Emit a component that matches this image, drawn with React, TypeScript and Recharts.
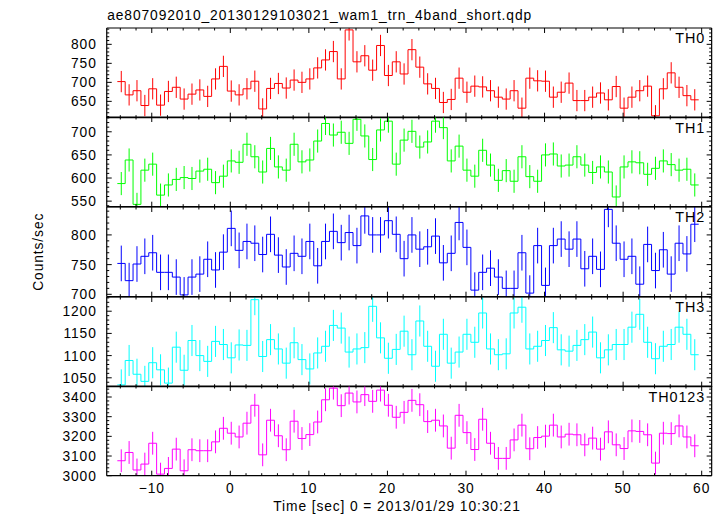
import React from 'react';
import { ComposedChart, Line, Scatter, ErrorBar, XAxis, YAxis } from 'recharts';

// 1-s bins, time of first bin centre relative to 2013/01/29 10:30:21
const T_START = -13.88;
const BIN = 1.0;

const TH0 = [
  702, 667, 678, 639, 683, 640, 676, 687, 656, 669, 680, 663, 709, 742, 677, 667, 683, 703, 630, 684,
  697, 685, 706, 700, 709, 738, 759, 781, 709, 838, 754, 770, 732, 797, 718, 754, 722, 786, 740, 696,
  684, 647, 655, 711, 674, 690, 688, 678, 661, 656, 678, 632, 711, 704, 703, 661, 674, 698, 652, 652,
  661, 672, 654, 689, 632, 661, 678, 690, 612, 683, 725, 687, 665, 654,
];
const TH1 = [
  588, 639, 543, 617, 630, 563, 585, 597, 601, 599, 615, 619, 590, 604, 637, 634, 673, 646, 613, 664,
  624, 617, 673, 635, 639, 680, 718, 693, 699, 675, 727, 691, 640, 704, 723, 630, 682, 701, 667, 678,
  723, 709, 637, 669, 617, 604, 660, 628, 595, 616, 593, 646, 603, 593, 650, 652, 626, 628, 646, 628,
  612, 624, 613, 559, 624, 635, 633, 608, 621, 637, 629, 617, 619, 585,
];
const TH2 = [
  752, 723, 751, 764, 770, 737, 737, 729, 699, 729, 734, 759, 741, 771, 811, 774, 789, 786, 767, 801,
  766, 746, 769, 764, 789, 748, 789, 806, 787, 804, 782, 832, 800, 800, 824, 801, 760, 800, 776, 780,
  798, 753, 769, 821, 779, 707, 737, 744, 729, 710, 710, 770, 702, 782, 715, 782, 793, 776, 793, 743,
  764, 742, 843, 786, 759, 764, 717, 784, 740, 775, 734, 786, 768, 818,
];
const TH3 = [
  1034, 1089, 1058, 1042, 1084, 1068, 1038, 1119, 1067, 1134, 1100, 1087, 1132, 1125, 1095, 1124, 1123, 1226, 1098, 1136,
  1115, 1083, 1129, 1091, 1070, 1106, 1121, 1168, 1162, 1108, 1115, 1118, 1211, 1140, 1094, 1114, 1155, 1102, 1178, 1121,
  1076, 1148, 1083, 1108, 1148, 1130, 1196, 1115, 1102, 1104, 1196, 1209, 1115, 1121, 1134, 1163, 1113, 1110, 1123, 1136,
  1153, 1095, 1113, 1125, 1125, 1164, 1193, 1130, 1093, 1121, 1125, 1164, 1148, 1102,
];
const TH0123 = [
  3076, 3118, 3029, 3059, 3165, 3008, 3037, 3135, 3025, 3132, 3127, 3127, 3172, 3241, 3216, 3197, 3267, 3358, 3106, 3282,
  3203, 3132, 3277, 3189, 3209, 3273, 3386, 3445, 3356, 3420, 3375, 3412, 3378, 3435, 3358, 3297, 3322, 3383, 3361, 3275,
  3282, 3253, 3140, 3307, 3219, 3133, 3287, 3165, 3088, 3088, 3182, 3257, 3137, 3194, 3201, 3257, 3197, 3211, 3208, 3157,
  3191, 3135, 3223, 3157, 3138, 3228, 3225, 3208, 3064, 3216, 3214, 3253, 3197, 3152,
];

const SERIES = [TH0, TH1, TH2, TH3, TH0123];
const BANDS = ['TH0', 'TH1', 'TH2', 'TH3', 'TH0123'];
const COLORS = ['#ff0000', '#00ff00', '#0000ff', '#00ffff', '#ff00ff'];
const ERRORS = [28, 25, 30, 35, 58];
const Y_DOMAINS = [[607, 843], [538, 732], [696, 847], [1030, 1232], [3000, 3456]];
const Y_MAJOR = [
  [650, 700, 750, 800],
  [550, 600, 650, 700],
  [700, 750, 800],
  [1050, 1100, 1150, 1200],
  [3000, 3100, 3200, 3300, 3400],
];
const Y_MINOR_STEP = [10, 10, 10, 10, 20];
const X_DOMAIN = [-15.73, 61.27];

// layout
const W = 725;
const H = 516;
const LEFT = 106.7;
const RIGHT = 711.7;
const TOP0 = 27.5;
const PANEL_H = 89.7;
const FONT = "'Liberation Sans', Arial, Helvetica, sans-serif";
const FS = 13.8;
const LS = 0.9;

const AXIS_LINE = { stroke: '#000', strokeWidth: 1.2 };

const xTicks: number[] = [];
for (let t = -14; t <= 60; t += 2) xTicks.push(t);

function yTicksFor(k: number) {
  const [lo, hi] = Y_DOMAINS[k];
  const step = Y_MINOR_STEP[k];
  const out: number[] = [];
  for (let v = Math.ceil(lo / step) * step; v <= hi; v += step) out.push(v);
  return out;
}

function XTick(props: any) {
  const { x, y, payload, side, labels } = props;
  const v = payload.value;
  const major = v % 10 === 0;
  const len = major ? 5 : 2.5;
  const y2 = side === 'bottom' ? y - len : y + len;
  return (
    <g>
      <line x1={x} y1={y} x2={x} y2={y2} stroke="#000" strokeWidth={1} />
      {labels && major && (
        <text x={x} y={y + 17} textAnchor="middle" fontFamily={FONT} fontSize={FS} letterSpacing={LS} fill="#000">
          {v < 0 ? `\u2212${-v}` : v}
        </text>
      )}
    </g>
  );
}

function YTick(props: any) {
  const { x, y, payload, side, majors } = props;
  const v = payload.value;
  const major = majors.includes(v);
  const len = major ? 5 : 2.5;
  const x2 = side === 'left' ? x + len : x - len;
  return (
    <g>
      <line x1={x} y1={y} x2={x2} y2={y} stroke="#000" strokeWidth={1} />
      {side === 'left' && major && (
        <text x={x - 10} y={y} dy="0.36em" textAnchor="end" fontFamily={FONT} fontSize={FS} letterSpacing={LS} fill="#000">
          {v}
        </text>
      )}
    </g>
  );
}

function Panel({ k }: { k: number }) {
  const values = SERIES[k];
  const color = COLORS[k];
  const [lo, hi] = Y_DOMAINS[k];
  const e = ERRORS[k];
  const last = k === SERIES.length - 1;
  // histogram steps: left bin edges plus closing edge of the last bin
  const steps = values.map((v, i) => ({ x: T_START + i * BIN - BIN / 2, y: v }));
  steps.push({ x: T_START + (values.length - 1) * BIN + BIN / 2, y: values[values.length - 1] });
  // error bars cut at the panel frame, like the plot window does
  const points = values.map((v, i) => ({
    x: T_START + i * BIN,
    y: v,
    err: [Math.min(e, v - lo), Math.min(e, hi - v)],
  }));
  const yTicks = yTicksFor(k);
  const extra = last ? H - (TOP0 + SERIES.length * PANEL_H) : 0;

  // axes are 1px thick boxes just outside the plot area (0-size axes are not drawn)
  return (
    <div style={{ position: 'absolute', left: 0, top: TOP0 + k * PANEL_H - 1 }}>
      <ComposedChart
        width={W}
        height={PANEL_H + 2 + extra}
        margin={{ top: 0, right: W - RIGHT - 1, bottom: extra, left: LEFT - 1 }}
      >
        <XAxis
          xAxisId="b"
          type="number"
          dataKey="x"
          orientation="bottom"
          domain={X_DOMAIN}
          allowDataOverflow
          ticks={xTicks}
          interval={0}
          height={1}
          tickSize={0}
          tickMargin={0}
          tickLine={false}
          axisLine={AXIS_LINE}
          tick={<XTick side="bottom" labels={last} />}
        />
        <XAxis
          xAxisId="t"
          type="number"
          dataKey="x"
          orientation="top"
          domain={X_DOMAIN}
          allowDataOverflow
          ticks={xTicks}
          interval={0}
          height={1}
          tickSize={0}
          tickMargin={0}
          tickLine={false}
          axisLine={AXIS_LINE}
          tick={<XTick side="top" labels={false} />}
        />
        <YAxis
          yAxisId="l"
          type="number"
          dataKey="y"
          orientation="left"
          domain={Y_DOMAINS[k]}
          allowDataOverflow
          ticks={yTicks}
          interval={0}
          width={1}
          tickSize={0}
          tickMargin={0}
          tickLine={false}
          axisLine={AXIS_LINE}
          tick={<YTick side="left" majors={Y_MAJOR[k]} />}
        />
        <YAxis
          yAxisId="r"
          type="number"
          dataKey="y"
          orientation="right"
          domain={Y_DOMAINS[k]}
          allowDataOverflow
          ticks={yTicks}
          interval={0}
          width={1}
          tickSize={0}
          tickMargin={0}
          tickLine={false}
          axisLine={AXIS_LINE}
          tick={<YTick side="right" majors={Y_MAJOR[k]} />}
        />
        <Line
          xAxisId="b"
          yAxisId="l"
          data={steps}
          dataKey="y"
          type="stepAfter"
          stroke={color}
          strokeWidth={1}
          dot={false}
          activeDot={false}
          isAnimationActive={false}
        />
        <Scatter
          xAxisId="b"
          yAxisId="l"
          data={points}
          dataKey="y"
          shape={() => <g />}
          isAnimationActive={false}
        >
          <ErrorBar dataKey="err" direction="y" width={0} stroke={color} strokeWidth={1} isAnimationActive={false} />
        </Scatter>
      </ComposedChart>
    </div>
  );
}

export default function App() {
  const midY = TOP0 + (SERIES.length * PANEL_H) / 2;
  return (
    <div style={{ position: 'absolute', left: 0, top: 0, width: W, height: H, background: '#fff', overflow: 'hidden' }}>
      {/* tick labels at a panel's lower edge reach into the next panel's box */}
      <style>{'.recharts-surface { overflow: visible; }'}</style>
      {SERIES.map((_, k) => (
        <Panel key={BANDS[k]} k={k} />
      ))}
      <svg width={W} height={H} style={{ position: 'absolute', left: 0, top: 0, pointerEvents: 'none' }}>
        <g fontFamily={FONT} fontSize={FS} letterSpacing={LS} fill="#000">
          <text x={LEFT + 0.5} y={19.5}>ae807092010_20130129103021_wam1_trn_4band_short.qdp</text>
          <text x={397} y={510.5} textAnchor="middle">Time [sec] 0 = 2013/01/29 10:30:21</text>
          <text x={43} y={midY} textAnchor="middle" transform={`rotate(-90 43 ${midY})`}>Counts/sec</text>
          {BANDS.map((b, k) => (
            <text key={b} x={RIGHT - 6.5} y={TOP0 + k * PANEL_H + 15.5} textAnchor="end" fontSize={FS + 0.6}>
              {b}
            </text>
          ))}
        </g>
      </svg>
    </div>
  );
}
